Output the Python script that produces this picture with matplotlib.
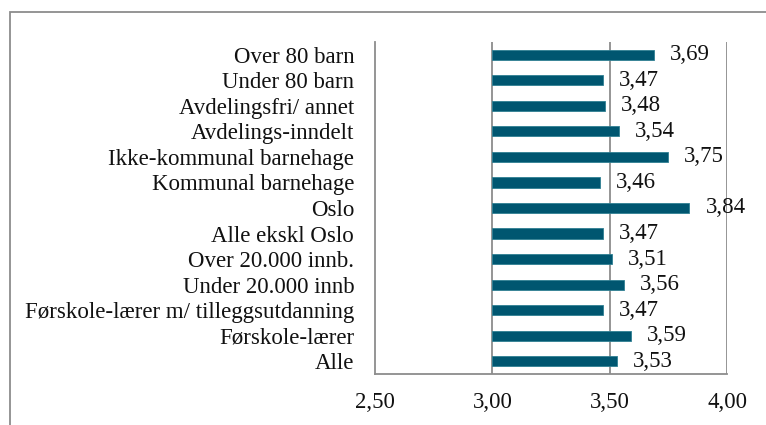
import matplotlib.pyplot as plt
from matplotlib.patches import Rectangle

plt.rcParams['font.family'] = ['Liberation Serif', 'DejaVu Serif']

# Kategorier (ovenfra og ned) og gjennomsnittsverdier
kategorier = [
    'Over 80 barn', 'Under 80 barn', 'Avdelingsfri/ annet', 'Avdelings-inndelt',
    'Ikke-kommunal barnehage', 'Kommunal barnehage', 'Oslo', 'Alle ekskl Oslo',
    'Over 20.000 innb.', 'Under 20.000 innb', 'Førskole-lærer m/ tilleggsutdanning',
    'Førskole-lærer', 'Alle',
]
verdier = [3.69, 3.47, 3.48, 3.54, 3.75, 3.46, 3.84, 3.47, 3.51, 3.56, 3.47, 3.59, 3.53]
x_ticks = [2.5, 3.0, 3.5, 4.0]
basis = 3.0

fig = plt.figure(figsize=(7.66, 4.25), dpi=100)
ax = fig.add_axes([0.4896, 0.12, 0.4595, 0.7812])

n = len(kategorier)
y = list(range(n))[::-1]
ax.barh(y, [v - basis for v in verdier], left=basis, height=0.4,
        color='#005670', edgecolor='#2f7f93', linewidth=0.6, zorder=3)

for yi, v in zip(y, verdier):
    ax.text(v + 0.068, yi, f'{v:.2f}'.replace('.', ','), va='center', ha='left',
            fontsize=16.5, color='#111111', zorder=4)

ax.set_xlim(2.5, 4.0)
ax.set_ylim(-0.5, n - 0.5)
ax.set_xticks(x_ticks)
ax.set_xticklabels([f'{t:.2f}'.replace('.', ',') for t in x_ticks])
ax.set_yticks(y)
ax.set_yticklabels(kategorier)
ax.tick_params(axis='both', length=0, labelsize=16.5, colors='#111111')
ax.tick_params(axis='y', pad=15)
ax.tick_params(axis='x', pad=13)

# Rutenett og akser
for t in x_ticks[1:]:
    ax.axvline(t, color='#8c8c8c', linewidth=1.3, zorder=1)
for side in ['top', 'right']:
    ax.spines[side].set_visible(False)
for side in ['left', 'bottom']:
    ax.spines[side].set_color('#8c8c8c')
    ax.spines[side].set_linewidth(1.3)

# Ytre ramme rundt diagrammet
fig.patches.append(Rectangle((10 / 766, -0.1), 1.2, (425 - 12) / 425 + 0.1,
                             transform=fig.transFigure, fill=False,
                             edgecolor='#8c8c8c', linewidth=1.3))

fig.savefig('out.png', dpi=100)
